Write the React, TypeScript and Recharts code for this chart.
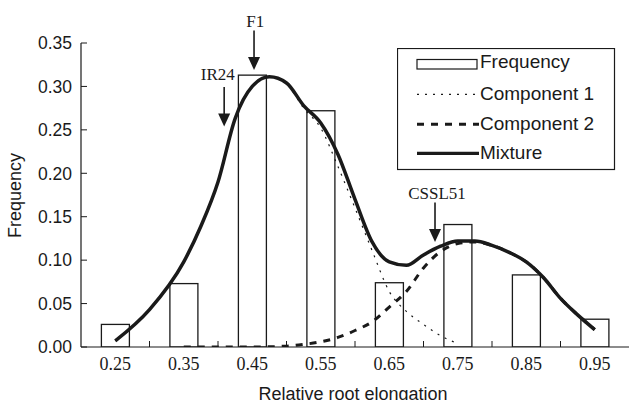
import React from 'react';
import { ComposedChart, Bar, Line, XAxis, YAxis, Legend, ReferenceDot, Label } from 'recharts';

// ---- data ----
const binCenters = [0.25, 0.35, 0.45, 0.55, 0.65, 0.75, 0.85, 0.95];
const frequency = [0.026, 0.073, 0.313, 0.272, 0.074, 0.141, 0.083, 0.032];

const mixtureX = [0.25, 0.3, 0.35, 0.375, 0.4, 0.425, 0.45, 0.475, 0.5, 0.525, 0.55, 0.575, 0.6, 0.625, 0.65, 0.675, 0.7, 0.725, 0.75, 0.775, 0.8, 0.825, 0.85, 0.875, 0.9, 0.925, 0.95];
const mixtureY = [0.007, 0.043, 0.098, 0.139, 0.19, 0.263, 0.3, 0.311, 0.304, 0.278, 0.258, 0.222, 0.17, 0.121, 0.098, 0.094, 0.106, 0.116, 0.122, 0.122, 0.117, 0.109, 0.098, 0.08, 0.056, 0.037, 0.02];

const component1X = [0.25, 0.3, 0.35, 0.375, 0.4, 0.425, 0.45, 0.475, 0.5, 0.525, 0.55, 0.575, 0.6, 0.625, 0.65, 0.675, 0.7, 0.725, 0.75];
const component1Y = [0.007, 0.043, 0.098, 0.139, 0.19, 0.263, 0.3, 0.311, 0.303, 0.275, 0.252, 0.208, 0.16, 0.111, 0.064, 0.041, 0.026, 0.013, 0.004];

const component2X = [0.35, 0.4, 0.45, 0.5, 0.525, 0.55, 0.575, 0.6, 0.625, 0.65, 0.675, 0.7, 0.725, 0.75, 0.775, 0.8, 0.825, 0.85, 0.875, 0.9, 0.925, 0.95];
const component2Y = [0, 0, 0, 0.001, 0.003, 0.006, 0.011, 0.019, 0.029, 0.046, 0.064, 0.091, 0.11, 0.119, 0.121, 0.117, 0.109, 0.098, 0.08, 0.056, 0.037, 0.02];

const xTickLabels = ['0.25', '0.35', '0.45', '0.55', '0.65', '0.75', '0.85', '0.95'];
const xTickMarks = [0.3, 0.4, 0.5, 0.6, 0.7, 0.8, 0.9];
const yTicks = [0, 0.05, 0.1, 0.15, 0.2, 0.25, 0.3, 0.35];

const seriesNames = ['Frequency', 'Component 1', 'Component 2', 'Mixture'];

const annotationLabels = ['IR24', 'F1', 'CSSL51'];
const annotationX = [0.409, 0.4526, 0.7168];
const annotationY = [0.254, 0.319, 0.121];

// ---- derived tables ----
const barData = binCenters.map((x, i) => ({ x, freq: frequency[i] }));
const mixtureData = mixtureX.map((x, i) => ({ x, y: mixtureY[i] }));
const comp1Data = component1X.map((x, i) => ({ x, y: component1Y[i] }));
const comp2Data = component2X.map((x, i) => ({ x, y: component2Y[i] }));
const allXTicks = [...xTickLabels.map(Number), ...xTickMarks].sort((a, b) => a - b);

// ---- styles ----
const serif = '"Liberation Serif", "Times New Roman", serif';
const sans = '"Liberation Sans", Arial, Helvetica, sans-serif';
const ink = '#1a1a1a';
const annotationStyle = [
  { dx: -6.3, baseDy: -46.7 },
  { dx: 1.3, baseDy: -43.3 },
  { dx: 2, baseDy: -43.4 },
];

const XTick = (props: any) => {
  const { x, y, payload } = props;
  const v = payload.value;
  const label = xTickLabels.find((t) => Math.abs(Number(t) - v) < 1e-6);
  if (label) {
    return (
      <text x={x} y={y + 22.5} textAnchor="middle" fontFamily={serif} fontSize={18} fill={ink}>
        {label}
      </text>
    );
  }
  return <line x1={x} x2={x} y1={y} y2={y - 6} stroke={ink} strokeWidth={1} />;
};

const YTick = (props: any) => {
  const { x, y, payload } = props;
  return (
    <g>
      <line x1={x} x2={x + 6} y1={y} y2={y} stroke={ink} strokeWidth={1} />
      <text x={x - 9} y={y} dy="0.36em" textAnchor="end" fontFamily={sans} fontSize={17.5} fill={ink}>
        {Number(payload.value).toFixed(2)}
      </text>
    </g>
  );
};

const BarShape = (p: any) => {
  if (p.height == null || isNaN(p.height)) return <g />;
  const cx = p.x + p.width / 2;
  return <rect x={cx - 14} y={p.y} width={28} height={p.height} fill="#fff" stroke={ink} strokeWidth={1.3} />;
};

const makeAnnotation = (i: number) => (p: any) => {
  const { cx, cy } = p;
  const s = annotationStyle[i];
  return (
    <g>
      <line x1={cx} x2={cx} y1={cy - 39.4} y2={cy - 11} stroke={ink} strokeWidth={1.6} />
      <polygon points={`${cx - 6},${cy - 13} ${cx + 6},${cy - 13} ${cx},${cy}`} fill={ink} />
      <text x={cx + s.dx} y={cy + s.baseDy} textAnchor="middle" fontFamily={serif} fontSize={17} fill={ink}>
        {annotationLabels[i]}
      </text>
    </g>
  );
};

const renderLegend = () => {
  const rows = [20.3, 52, 82, 111];
  const lines = [46.3, 76.3, 105.3];
  return (
    <svg width={219} height={123} style={{ display: 'block' }}>
      <rect x={0.5} y={0.5} width={217} height={121} fill="#fff" stroke={ink} strokeWidth={1.2} />
      <rect x={20} y={11.5} width={60} height={9.5} fill="#fff" stroke={ink} strokeWidth={1.2} />
      <line x1={20} x2={80} y1={lines[0]} y2={lines[0]} stroke={ink} strokeWidth={1.2} strokeDasharray="2 6" />
      <line x1={20} x2={82} y1={lines[1]} y2={lines[1]} stroke={ink} strokeWidth={3} strokeDasharray="7 7" />
      <line x1={20} x2={82} y1={lines[2]} y2={lines[2]} stroke={ink} strokeWidth={3.2} />
      {seriesNames.map((n, i) => (
        <text key={n} x={83} y={rows[i]} fontFamily={sans} fontSize={19} fill={ink}>
          {n}
        </text>
      ))}
    </svg>
  );
};

export default function App() {
  return (
    <div style={{ position: 'absolute', left: 0, top: 0, width: 629, height: 400, background: '#fff' }}>
      <ComposedChart width={629} height={400} data={barData} margin={{ top: 43, right: 0, bottom: 0, left: 0 }}>
        <XAxis
          dataKey="x"
          type="number"
          domain={[0.2, 1.0]}
          ticks={allXTicks}
          interval={0}
          tick={<XTick />}
          tickLine={false}
          tickSize={0}
          tickMargin={0}
          height={53}
          allowDataOverflow
          axisLine={{ stroke: ink, strokeWidth: 1.2 }}
        >
          <Label
            content={(p: any) => {
              const vb = p.viewBox || { x: 81, y: 347, width: 548 };
              return (
                <text x={vb.x + vb.width / 2 - 2} y={vb.y + 52.5} textAnchor="middle" fontFamily={sans} fontSize={18} fill={ink}>
                  Relative root elongation
                </text>
              );
            }}
          />
        </XAxis>
        <YAxis
          type="number"
          domain={[0, 0.35]}
          ticks={yTicks}
          interval={0}
          tick={<YTick />}
          tickLine={false}
          tickSize={0}
          tickMargin={0}
          width={81}
          allowDataOverflow
          axisLine={{ stroke: ink, strokeWidth: 1.2 }}
        >
          <Label
            content={(p: any) => {
              const vb = p.viewBox || { x: 0, y: 43, height: 304 };
              const cx = vb.x + 20.5;
              const cy = vb.y + vb.height / 2 + 0.5;
              return (
                <text x={cx} y={cy} transform={`rotate(-90 ${cx} ${cy})`} textAnchor="middle" fontFamily={sans} fontSize={18} fill={ink}>
                  Frequency
                </text>
              );
            }}
          />
        </YAxis>
        <Bar dataKey="freq" name={seriesNames[0]} shape={<BarShape />} isAnimationActive={false} />
        <Line data={comp1Data} dataKey="y" name={seriesNames[1]} type="monotone" stroke={ink} strokeWidth={1.2} strokeDasharray="2 6" dot={false} activeDot={false} isAnimationActive={false} />
        <Line data={comp2Data} dataKey="y" name={seriesNames[2]} type="monotone" stroke={ink} strokeWidth={3} strokeDasharray="7 7" dot={false} activeDot={false} isAnimationActive={false} />
        <Line data={mixtureData} dataKey="y" name={seriesNames[3]} type="monotone" stroke={ink} strokeWidth={3.5} dot={false} activeDot={false} isAnimationActive={false} />
        {annotationLabels.map((l, i) => (
          <ReferenceDot key={l} x={annotationX[i]} y={annotationY[i]} r={0} shape={makeAnnotation(i)} ifOverflow="visible" />
        ))}
        <Legend
          layout="horizontal"
          verticalAlign="middle"
          align="center"
          content={renderLegend}
          wrapperStyle={{ left: 397, top: 48, width: 219, height: 123 }}
        />
      </ComposedChart>
    </div>
  );
}
